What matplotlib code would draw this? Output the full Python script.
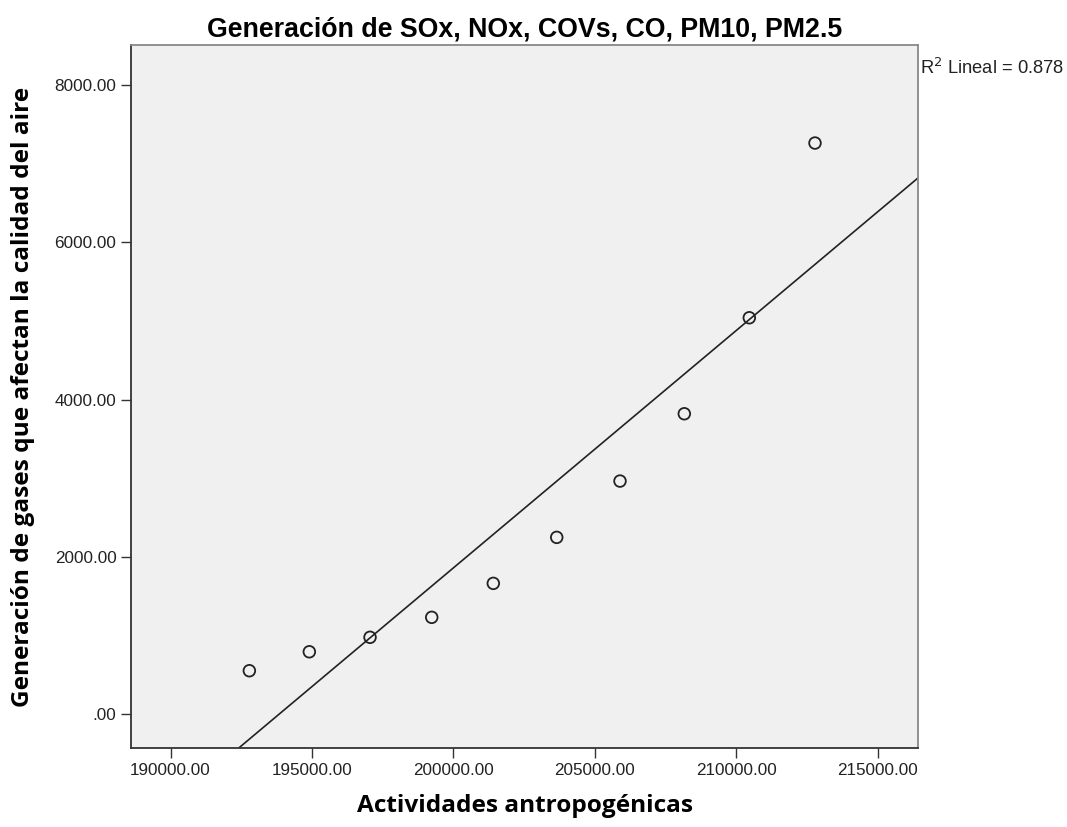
import numpy as np
import matplotlib
matplotlib.use("Agg")
import matplotlib.pyplot as plt
import matplotlib.ticker as ticker

# values
actividades = [192786, 194906, 197052, 199233, 201410, 203652, 205889, 208162, 210460, 212782]
gases = [551, 792, 976, 1230, 1662, 2247, 2963, 3819, 5040, 7262]

x_ticks = [190000, 195000, 200000, 205000, 210000, 215000]
y_ticks = [0, 2000, 4000, 6000, 8000]

title = "Generación de SOx, NOx, COVs, CO, PM10, PM2.5"
x_label = "Actividades antropogénicas"
y_label = "Generación de gases que afectan la calidad del aire"
r2_label = "R$^2$ Lineal = 0.878"

fig = plt.figure(figsize=(10.67, 8.27), dpi=100)
ax = fig.add_axes([0.1228, 0.0955, 0.7376, 0.8501])
ax.set_facecolor("#f0f0f0")

x = np.array(actividades, dtype=float)
y = np.array(gases, dtype=float)

ax.set_xlim(188603, 216425)
ax.set_ylim(-432, 8509)

# linear fit line across the whole axis
slope, intercept = np.polyfit(x, y, 1)
xl = np.array(ax.get_xlim())
ax.plot(xl, slope * xl + intercept, color="#222222", linewidth=1.2, zorder=2)

ax.scatter(x, y, s=70, facecolors="none", edgecolors="#222222", linewidths=1.3, zorder=3)

ax.set_xticks(x_ticks)
ax.set_yticks(y_ticks)
ax.xaxis.set_major_formatter(ticker.FuncFormatter(lambda v, p: f"{v:.2f}"))
ax.yaxis.set_major_formatter(ticker.FuncFormatter(lambda v, p: ".00" if v == 0 else f"{v:.2f}"))
ax.tick_params(axis="both", direction="out", length=7, width=1, color="#333333",
               labelsize=12.3, labelcolor="#222222")
for lab in ax.get_xticklabels() + ax.get_yticklabels():
    lab.set_family("Liberation Sans")

for side in ["left", "bottom"]:
    ax.spines[side].set_color("#333333")
    ax.spines[side].set_linewidth(1.3)
for side in ["right", "top"]:
    ax.spines[side].set_color("#888888")
    ax.spines[side].set_linewidth(1.3)

ax.set_title(title, fontsize=19.3, fontweight="bold", family="Liberation Sans", pad=6)
ax.set_xlabel(x_label, fontsize=17.6, fontweight="bold", family="Open Sans", labelpad=12)
ax.set_ylabel(y_label, fontsize=17.6, fontweight="bold", family="Open Sans", labelpad=14)

fig.text(0.8622, 0.918, r2_label, fontsize=13.2, family="Liberation Sans", color="#222222",
         ha="left", va="center")

fig.savefig("out.png", dpi=100, facecolor="white")
